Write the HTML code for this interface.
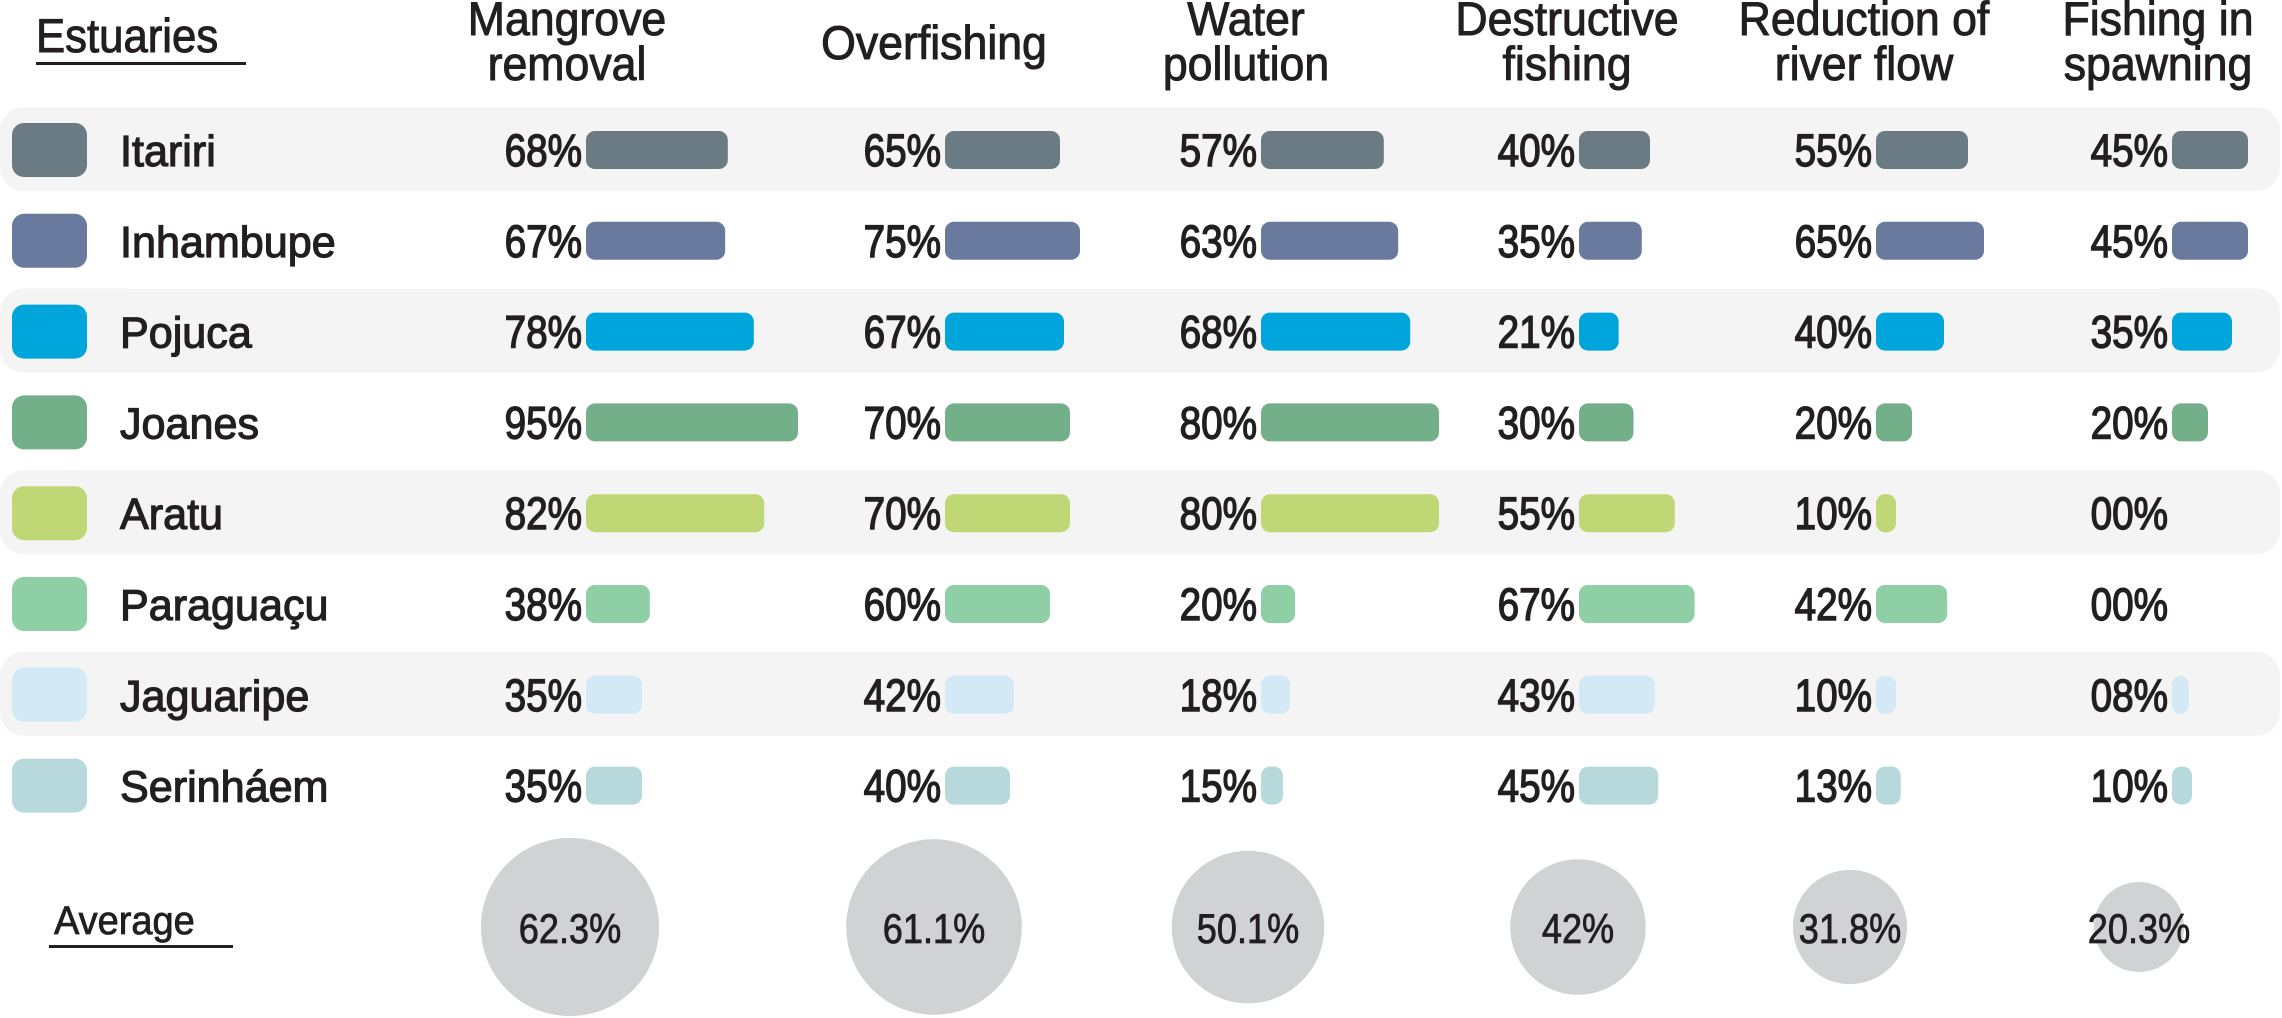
<!DOCTYPE html>
<html><head><meta charset="utf-8"><style>
html,body{margin:0;padding:0;background:#fff;}
svg{display:block;font-family:"Liberation Sans",sans-serif;}
</style></head><body>
<svg id="chart" width="2282" height="1018" viewBox="0 0 2282 1018" xmlns="http://www.w3.org/2000/svg"></svg>
<script>
const estuaries = ["Itariri","Inhambupe","Pojuca","Joanes","Aratu","Paraguaçu","Jaguaripe","Serinháem"];
const colors = ["#6b7b83","#6a7a9f","#00a5dc","#73b08a","#bfd775","#8ecfa5","#d3e9f5","#b8d9dc"];
const categories = [["Mangrove","removal"],["Overfishing"],["Water","pollution"],["Destructive","fishing"],["Reduction of","river flow"],["Fishing in","spawning"]];
const mangrove = [68,67,78,95,82,38,35,35];
const overfishing = [65,75,67,70,70,60,42,40];
const waterPollution = [57,63,68,80,80,20,18,15];
const destructiveFishing = [40,35,21,30,55,67,43,45];
const riverFlow = [55,65,40,20,10,42,10,13];
const spawningFishing = [45,45,35,20,0,0,8,10];
const averages = [62.3,61.1,50.1,42,31.8,20.3];
const averageLabels = ["62.3%","61.1%","50.1%","42%","31.8%","20.3%"];
const series = [mangrove,overfishing,waterPollution,destructiveFishing,riverFlow,spawningFishing];

const svg = document.getElementById('chart');
const NS = "http://www.w3.org/2000/svg";
const INK = "#231f20";
function mk(tag, attrs){const e=document.createElementNS(NS,tag);for(const k in attrs)e.setAttribute(k,attrs[k]);svg.appendChild(e);return e;}
function txt(str,x,y,anchor,sx,size,sw){const t=mk('text',{transform:`translate(${x},${y}) scale(${sx},1)`,'text-anchor':anchor,'font-size':size||44,fill:INK,stroke:INK,'stroke-width':sw||1});t.textContent=str;return t;}

const rowY = i => 150 + i*90.8;
const colBarX = [586,945,1261,1579,1876,2172];
const colHeadX = [567,934,1246,1567,1864,2158];
const colScale = [[2.6,-35],[2.0,-15],[2.4,-14],[1.65,5],[1.6,4],[1.6,4]];
const barW = (c,v) => v<=0 ? 0 : Math.max(14, colScale[c][0]*v + colScale[c][1]);
const avgX = [570,934,1248,1578,1850,2139];
const avgR = v => 1.05*v + 23.7;

let t = txt("Estuaries",36,52,'start',0.93,47,1);


let u = mk('rect',{x:36,y:62,width:210,height:3,fill:INK});


categories.forEach((lines,c)=>{
  lines.forEach((ln,k)=>{
    const y = lines.length===1 ? 59 : 35 + k*45;
    const e = txt(ln,colHeadX[c],y,'middle',0.95,47,1);
    
    
  });
});

estuaries.forEach((name,i)=>{
  const cy = rowY(i);
  if(i%2===0){
    const band = mk('rect',{x:0,y:cy-43,width:2280,height:84,rx:24,fill:"#f4f4f4"});
    
    
  }
  const sw = mk('rect',{x:12,y:cy-27,width:75,height:54,rx:12,fill:colors[i]});
  
  
  const nl = txt(name,120,cy+16,'start',0.98,44,1.2);
  
  
  series.forEach((vals,c)=>{
    const v = vals[i];
    const lab = txt(String(v).padStart(2,'0')+"%",colBarX[c]-4,cy+16,'end',0.86,45,1.4);
    
    
    const w = barW(c,v);
    if(w>0){
      const b = mk('rect',{x:colBarX[c],y:cy-19,width:w,height:38,rx:9,fill:colors[i]});
      
      
    }
  });
});

let a = txt("Average",54,934,'start',0.95,40,0.8);


let au = mk('rect',{x:49,y:945,width:184,height:3,fill:INK});


averages.forEach((v,c)=>{
  const circ = mk('circle',{cx:avgX[c],cy:927,r:avgR(v),fill:"#d1d2d4"});
  
  
  const l = txt(averageLabels[c],avgX[c],943,'middle',0.86,42,0.8);
  
  
});
</script>
</body></html>
